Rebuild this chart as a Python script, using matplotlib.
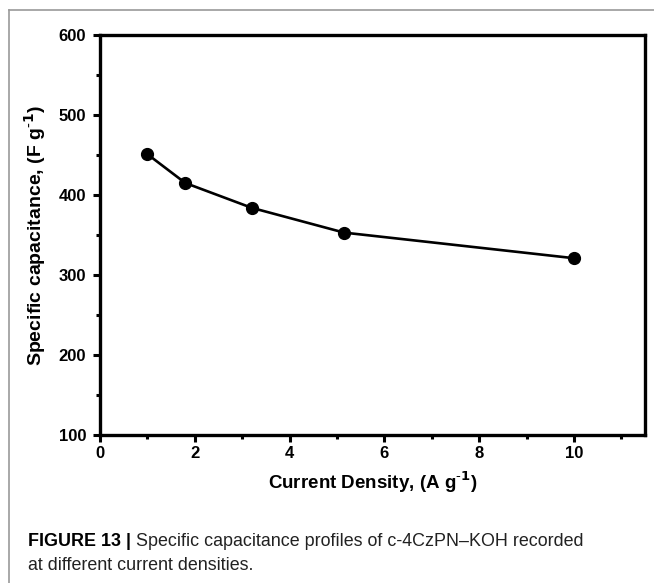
import numpy as np
import matplotlib
matplotlib.use('Agg')
import matplotlib.pyplot as plt
from matplotlib.ticker import MultipleLocator
from matplotlib.lines import Line2D

plt.rcParams['font.family'] = ['Liberation Sans', 'DejaVu Sans']

# current density (A/g) vs specific capacitance (F/g)
current_density = [1.0, 1.8, 3.2, 5.15, 10.0]
capacitance = [451, 415, 384, 353, 321]

x_ticks = [0, 2, 4, 6, 8, 10]
y_ticks = [100, 200, 300, 400, 500, 600]

fig = plt.figure(figsize=(6.54, 5.83), dpi=100)
ax1 = fig.add_axes([100/654, 1-435/583, 545/654, 400/583])

ax1.plot(current_density, capacitance, color='black', lw=1.9,
         marker='o', markersize=8.5, markerfacecolor='black')

ax1.set_xlim(0, 11.5)
ax1.set_ylim(100, 600)
ax1.set_xticks(x_ticks)
ax1.set_yticks(y_ticks)
ax1.xaxis.set_minor_locator(MultipleLocator(1))
ax1.yaxis.set_minor_locator(MultipleLocator(50))
for s in ax1.spines.values():
    s.set_linewidth(2.4)
ax1.tick_params(which='major', direction='out', length=5, width=2.2, labelsize=12)
ax1.tick_params(axis='y', which='major', pad=5)
ax1.tick_params(axis='x', which='major', pad=3)
ax1.tick_params(which='minor', direction='out', length=3, width=2.2)
for lab in ax1.get_xticklabels() + ax1.get_yticklabels():
    lab.set_fontweight('bold')

ax1.set_xlabel('Current Density, (A g$^{\\mathbf{\\text{-}1}}$)', fontsize=13.5, fontweight='bold', labelpad=6)
ax1.set_ylabel('Specific capacitance, (F g$^{\\mathbf{\\text{-}1}}$)', fontsize=14, fontweight='bold', labelpad=8)

# light grey frame around the figure panel
fig.add_artist(Line2D([9/654, 1], [1-10/583, 1-10/583], color='#9a9a9a', lw=1.2))
fig.add_artist(Line2D([9/654, 9/654], [0, 1-10/583], color='#9a9a9a', lw=1.2))

cap_font = ['Liberation Sans Narrow', 'Liberation Sans', 'DejaVu Sans']
t = fig.text(28/654, 1-541/583, 'FIGURE 13 | ', fontsize=12.9, fontweight='bold',
             family=cap_font, va='center')
fig.canvas.draw()
bb = t.get_window_extent()
fig.text(bb.x1/654, 1-541/583, 'Specific capacitance profiles of c-4CzPN\u2013KOH recorded',
         fontsize=12.9, family=cap_font, va='center', color='#222222')
fig.text(28/654, 1-565/583, 'at different current densities.',
         fontsize=12.9, family=cap_font, va='center', color='#222222')

plt.savefig('out.png', dpi=100)
